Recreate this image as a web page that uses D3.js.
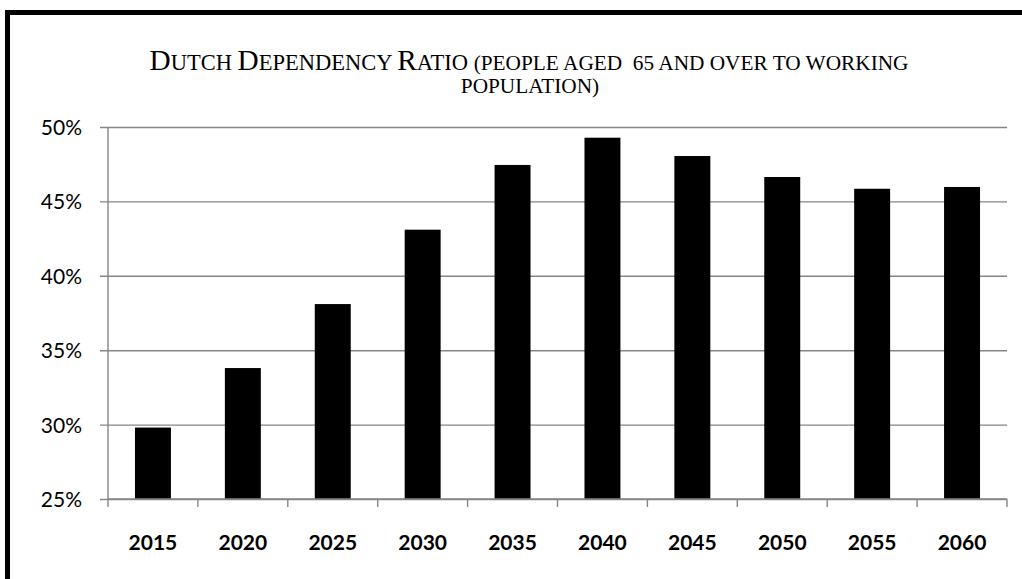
<!DOCTYPE html>
<html>
<head>
<meta charset="utf-8">
<script src="https://cdn.jsdelivr.net/npm/d3@7"></script>
<style>
  html, body { margin: 0; padding: 0; background: #fff; }
  svg { display: block; }
  .title { font-family: "Liberation Serif", "Times New Roman", serif; fill: #000; white-space: pre; }
  .ytick text { font-family: Lato, "Open Sans", sans-serif; font-size: 21px; fill: #000; }
  .xtick text { font-family: Lato, "Open Sans", sans-serif; font-size: 21px; font-weight: bold; fill: #000; }
</style>
</head>
<body>
<svg id="chart" width="1022" height="579"></svg>
<script>
// Share of people aged 65+ relative to the working population, by year
const years = ["2015", "2020", "2025", "2030", "2035", "2040", "2045", "2050", "2055", "2060"];
const ratios = [0.298, 0.338, 0.381, 0.431, 0.4745, 0.4928, 0.4805, 0.4664, 0.4585, 0.4597];
const yTicks = [0.25, 0.30, 0.35, 0.40, 0.45, 0.50];

const svg = d3.select("#chart");
const W = 1022, H = 579;

// outer frame: only left and top edges fall inside the view
svg.append("path")
  .attr("d", `M7.5,${H + 10} V12.5 H${W + 10}`)
  .attr("fill", "none")
  .attr("stroke", "#000")
  .attr("stroke-width", 5);

const plot = { left: 108, right: 1007, top: 127, bottom: 499 };

const x = d3.scaleBand()
  .domain(years)
  .range([plot.left, plot.right])
  .paddingInner(0.6)
  .paddingOuter(0.3);

const xTickScale = d3.scaleBand().domain(years).range([plot.left, plot.right]);

const y = d3.scaleLinear()
  .domain([0.25, 0.50])
  .range([plot.bottom, plot.top]);

// horizontal gridlines + y labels
const yAxis = d3.axisLeft(y)
  .tickValues(yTicks)
  .tickFormat(d3.format(".0%"))
  .tickSize(-(plot.right - plot.left))
  .tickPadding(26);

const gy = svg.append("g")
  .attr("class", "ytick")
  .attr("transform", `translate(${plot.left},0)`)
  .call(yAxis);
gy.select(".domain").remove();
gy.selectAll(".tick line")
  .attr("x1", -8)
  .attr("stroke", "#868686")
  .attr("stroke-width", 1.4);
gy.selectAll(".tick text").attr("dy", "0.36em");

// vertical axis line
svg.append("line")
  .attr("x1", plot.left).attr("x2", plot.left)
  .attr("y1", plot.top).attr("y2", plot.bottom)
  .attr("stroke", "#868686")
  .attr("stroke-width", 1.4);

// bars
svg.append("g")
  .selectAll("rect")
  .data(years.map((yr, i) => ({ yr, v: ratios[i] })))
  .join("rect")
  .attr("x", d => x(d.yr))
  .attr("width", x.bandwidth())
  .attr("y", d => y(d.v))
  .attr("height", d => y(0.25) - y(d.v))
  .attr("fill", "#000");

// category axis: ticks on band boundaries, labels centred in bands
const gx = svg.append("g")
  .attr("class", "xtick")
  .attr("transform", `translate(0,${plot.bottom})`);

gx.append("line")
  .attr("x1", plot.left).attr("x2", plot.right)
  .attr("stroke", "#868686").attr("stroke-width", 1.4);

const boundaries = years.map(d => xTickScale(d)).concat([plot.right]);
gx.selectAll("line.tk")
  .data(boundaries)
  .join("line")
  .attr("class", "tk")
  .attr("x1", d => d).attr("x2", d => d)
  .attr("y1", 0).attr("y2", 8)
  .attr("stroke", "#868686").attr("stroke-width", 1.4);

gx.selectAll("text")
  .data(years)
  .join("text")
  .attr("x", d => xTickScale(d) + xTickScale.bandwidth() / 2)
  .attr("y", 51)
  .attr("text-anchor", "middle")
  .text(d => d);

// title in small caps
const big = 29.3, small = 22.5, paren = 21.3;
const line1 = [
  ["D", big], ["UTCH ", small], ["D", big], ["EPENDENCY ", small],
  ["R", big], ["ATIO ", small], ["(PEOPLE AGED  65 AND OVER TO WORKING", paren]
];
const t1 = svg.append("text")
  .attr("class", "title")
  .attr("x", 529).attr("y", 70)
  .attr("text-anchor", "middle");
t1.selectAll("tspan").data(line1).join("tspan")
  .attr("font-size", d => d[1])
  .text(d => d[0]);

svg.append("text")
  .attr("class", "title")
  .attr("x", 530).attr("y", 93)
  .attr("text-anchor", "middle")
  .attr("font-size", paren)
  .text("POPULATION)");
</script>
</body>
</html>
